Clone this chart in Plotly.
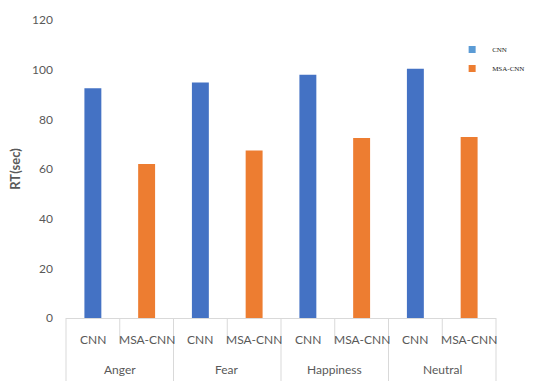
import plotly.graph_objects as go

# Response time per emotion for the two models
emotions = ["Anger", "Fear", "Happiness", "Neutral"]
models = ["CNN", "MSA-CNN"]
cnn_rt = [92.5, 94.8, 98.0, 100.4]
msa_cnn_rt = [62.0, 67.5, 72.5, 72.9]
y_ticks = [0, 20, 40, 60, 80, 100, 120]

bar_colors = {"CNN": "#4472C4", "MSA-CNN": "#ED7D31"}
legend_colors = {"CNN": "#5B9BD5", "MSA-CNN": "#ED7D31"}
label_grey = "#595959"
rule_grey = "#D9D9D9"
label_font = dict(family="Lato", size=12, color=label_grey)

fig = go.Figure()

for name, values in zip(models, [cnn_rt, msa_cnn_rt]):
    fig.add_trace(go.Bar(
        x=[emotions, [name] * len(emotions)],
        y=values,
        name=name,
        width=0.315,
        marker=dict(color=bar_colors[name], line=dict(width=0)),
        showlegend=False,
    ))

# Small square swatches for the legend, on a hidden helper axis
for name in models:
    fig.add_trace(go.Scatter(
        x=[None], y=[None], mode="markers", name=name,
        marker=dict(symbol="square", size=7, color=legend_colors[name]),
        xaxis="x2", yaxis="y2", legendgroup=name,
    ))

n_slots = len(emotions) * len(models)

# Table-style rules and the two label rows under the category axis
shapes = []
annotations = []
for g, emo in enumerate(emotions):
    left = g * len(models) / n_slots
    right = (g + 1) * len(models) / n_slots
    annotations.append(dict(text=emo, xref="paper", yref="paper",
                            x=(left + right) / 2, y=-0.173,
                            showarrow=False, font=label_font,
                            xanchor="center", yanchor="middle"))
    for k, name in enumerate(models):
        annotations.append(dict(text=name, xref="paper", yref="paper",
                                x=(g * len(models) + k + 0.5) / n_slots,
                                y=-0.073, showarrow=False, font=label_font,
                                xanchor="center", yanchor="middle"))
    mid = (g * len(models) + 1) / n_slots
    shapes.append(dict(type="line", xref="paper", yref="paper",
                       x0=mid, x1=mid, y0=0, y1=-0.085,
                       line=dict(color=rule_grey, width=1)))
for g in range(len(emotions) + 1):
    xp = g * len(models) / n_slots
    shapes.append(dict(type="line", xref="paper", yref="paper",
                       x0=xp, x1=xp, y0=0, y1=-0.215,
                       line=dict(color=rule_grey, width=1)))

fig.update_layout(
    width=542, height=381,
    margin=dict(l=66, r=33, t=18, b=63),
    paper_bgcolor="white", plot_bgcolor="white",
    barmode="overlay",
    shapes=shapes,
    annotations=annotations,
    showlegend=True,
    legend=dict(
        x=0.898, y=0.95, xanchor="left", yanchor="top",
        font=dict(family="Liberation Serif", size=7, color="#222222"),
        bgcolor="rgba(0,0,0,0)", tracegroupgap=0,
    ),
    xaxis=dict(
        type="multicategory",
        range=[-0.5, n_slots - 0.5],
        showline=True, linecolor=rule_grey, linewidth=1,
        showgrid=False, ticks="", showdividers=False,
        showticklabels=False,
    ),
    yaxis=dict(
        range=[0, 120], tickvals=y_ticks,
        showgrid=False, zeroline=False, showline=False, ticks="",
        ticklabelstandoff=12,
        tickfont=dict(family="Lato", size=12, color=label_grey),
        title=dict(text="<b>RT(sec)</b>", standoff=8,
                   font=dict(family="Lato", size=13, color=label_grey)),
    ),
    xaxis2=dict(visible=False, overlaying="x", range=[0, 1]),
    yaxis2=dict(visible=False, overlaying="y", range=[0, 1]),
)

fig.write_html("out.html")
